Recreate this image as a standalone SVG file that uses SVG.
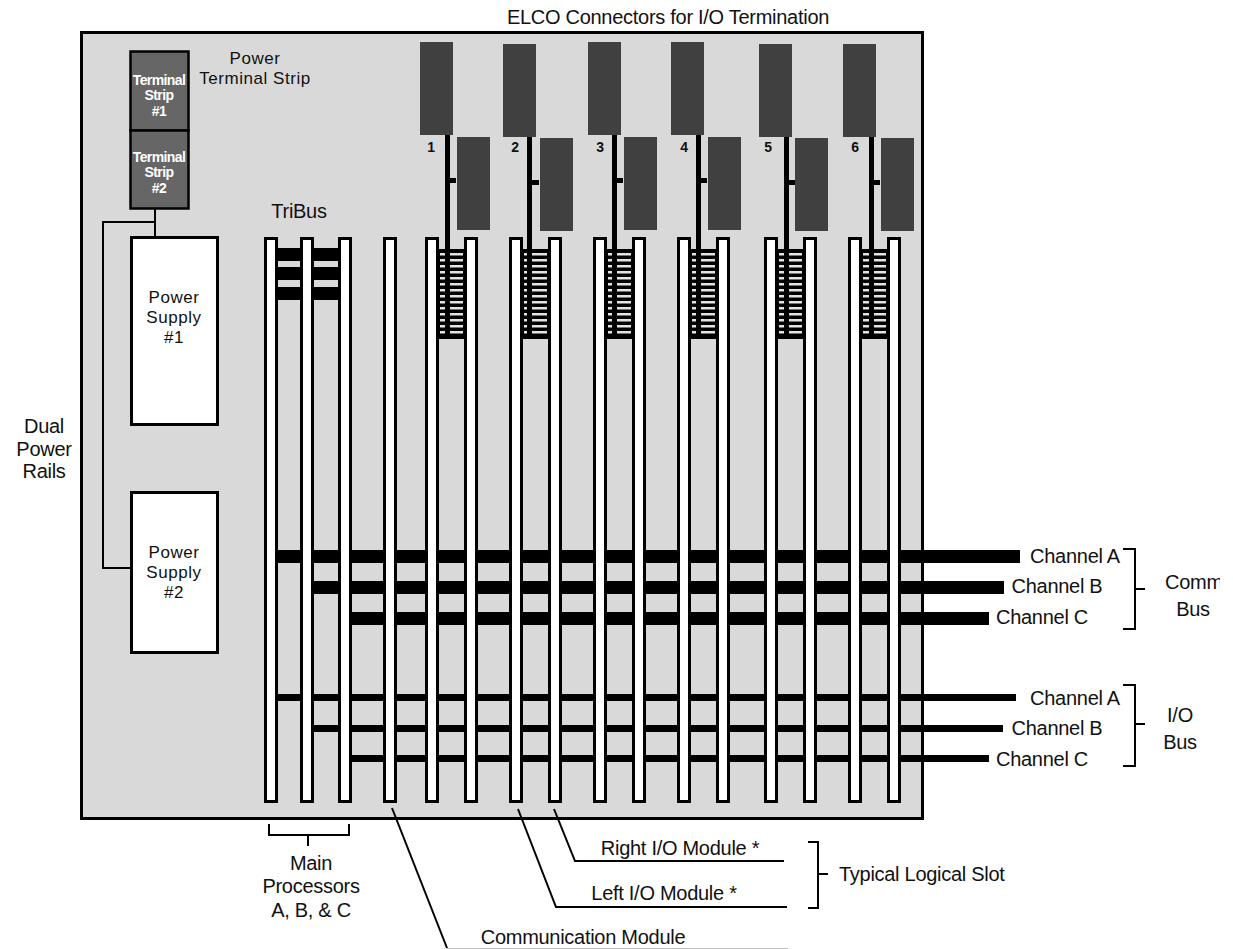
<svg xmlns="http://www.w3.org/2000/svg" width="1233" height="949" viewBox="0 0 1233 949">
<style>
text{font-family:"Liberation Sans",Arial,sans-serif;font-size:20px;fill:#111;letter-spacing:-.28px;text-anchor:middle}
.st{font-size:14px;font-weight:bold;fill:#fff;letter-spacing:-.6px}
.n{font-size:14px;font-weight:bold}
.l{text-anchor:start}
text.t{font-size:17px;letter-spacing:.55px}
.slot{fill:#fff;stroke:#000;stroke-width:3}
.elco{fill:#404040}
.ps{fill:#fff;stroke:#000;stroke-width:3}
.ts{fill:#666;stroke:#000;stroke-width:2.500}
.thin{fill:none;stroke:#000;stroke-width:2}
</style>
<defs>
<clipPath id="cl"><rect x="0" y="0" width="1220" height="949"/></clipPath>
<g id="rungs"><rect x="-1" y="0" width="27" height="90"/><path d="M1 5.250h23M1 11.250h23M1 17.250h23M1 23.250h23M1 29.250h23M1 35.250h23M1 41.250h23M1 47.250h23M1 53.250h23M1 59.250h23M1 65.250h23M1 71.250h23M1 77.250h23M1 83.250h23" stroke="#e4e4e4" stroke-width="2.500"/></g>
</defs>
<rect x="81.500" y="32.500" width="841" height="786" fill="#d9d9d9" stroke="#000" stroke-width="3"/>
<g id="connectors">
<path class="thin" d="M155 208V237M155 222H103V568H131"/>
<g id="tribus"><path d="M278 248h22v13h-22zM314 248h24v13h-24zM278 267h22v13h-22zM314 267h24v13h-24zM278 287h22v13h-22zM314 287h24v13h-24z"/></g>
<g id="comm-bus"><rect x="278" y="550" width="742" height="13"/><rect x="314" y="581" width="690" height="13"/><rect x="352" y="612" width="637" height="13"/></g>
<g id="io-bus"><rect x="278" y="694" width="738" height="7"/><rect x="314" y="725" width="689" height="7"/><rect x="352" y="755" width="637" height="7"/></g>
<g id="ladders"><use href="#rungs" x="439" y="249"/><use href="#rungs" x="523" y="249"/><use href="#rungs" x="607" y="249"/><use href="#rungs" x="691" y="249"/><use href="#rungs" x="778" y="249"/><use href="#rungs" x="862" y="249"/></g>
<g id="elco-lines"><path d="M445 135h5v201h-5zM450 178h6v5h-6zM527 137h5v199h-5zM532 180h7v5h-7zM612 135h5v201h-5zM617 178h6v5h-6zM696 135h5v201h-5zM701 178h6v5h-6zM784 137h5v199h-5zM789 180h6v5h-6zM869 137h5v199h-5zM874 180h6v5h-6z"/></g>
<path class="thin" d="M392 808L447 948"/><path d="M447 948.500H788" stroke="#bbb" fill="none"/>
<path class="thin" d="M518 809L556 907H787M554 809L575 861H784"/>
<path class="thin" d="M269 824V835H349V824M308 835V846"/>
<path class="thin" d="M808 842H818V908H808M818 874H828"/>
<path class="thin" d="M1123 549H1135V629H1123M1135 589H1145M1123 685H1135V766H1123M1135 724H1145"/>
</g>
<g id="slots">
<rect class="slot" x="265.500" y="238.500" width="11" height="563"/>
<rect class="slot" x="301.500" y="238.500" width="11" height="563"/>
<rect class="slot" x="339.500" y="238.500" width="11" height="563"/>
<rect class="slot" x="384.500" y="238.500" width="11" height="563"/>
<rect class="slot" x="426.500" y="238.500" width="11" height="563"/>
<rect class="slot" x="465.500" y="238.500" width="11" height="563"/>
<rect class="slot" x="510.500" y="238.500" width="11" height="563"/>
<rect class="slot" x="549.500" y="238.500" width="11" height="563"/>
<rect class="slot" x="594.500" y="238.500" width="11" height="563"/>
<rect class="slot" x="633.500" y="238.500" width="11" height="563"/>
<rect class="slot" x="678.500" y="238.500" width="11" height="563"/>
<rect class="slot" x="717.500" y="238.500" width="11" height="563"/>
<rect class="slot" x="765.500" y="238.500" width="11" height="563"/>
<rect class="slot" x="804.500" y="238.500" width="11" height="563"/>
<rect class="slot" x="849.500" y="238.500" width="11" height="563"/>
<rect class="slot" x="888.500" y="238.500" width="11" height="563"/>
</g>
<g id="terminal-strip-1"><rect class="ts" x="130.500" y="51.500" width="58" height="79"/><text class="st" x="159" y="85">Terminal</text><text class="st" x="159" y="100">Strip</text><text class="st" x="159" y="116">#1</text></g>
<g id="terminal-strip-2"><rect class="ts" x="130.500" y="130.500" width="58" height="78"/><text class="st" x="159" y="162">Terminal</text><text class="st" x="159" y="177">Strip</text><text class="st" x="159" y="193">#2</text></g>
<g id="power-supply-1"><rect class="ps" x="131.500" y="237.500" width="86" height="187"/><text class="t" x="174" y="303">Power</text><text class="t" x="174" y="323">Supply</text><text class="t" x="174" y="343">#1</text></g>
<g id="power-supply-2"><rect class="ps" x="131.500" y="492.500" width="86" height="160"/><text class="t" x="174" y="558">Power</text><text class="t" x="174" y="578">Supply</text><text class="t" x="174" y="598">#2</text></g>
<g id="elco">
<rect class="elco" x="420" y="42" width="33" height="93"/><rect class="elco" x="457" y="137" width="33" height="93"/>
<rect class="elco" x="503" y="44" width="33" height="93"/><rect class="elco" x="540" y="138" width="33" height="93"/>
<rect class="elco" x="588" y="42" width="33" height="93"/><rect class="elco" x="624" y="137" width="33" height="93"/>
<rect class="elco" x="671" y="42" width="33" height="93"/><rect class="elco" x="708" y="137" width="33" height="93"/>
<rect class="elco" x="759" y="44" width="33" height="93"/><rect class="elco" x="795" y="138" width="33" height="93"/>
<rect class="elco" x="843" y="44" width="33" height="93"/><rect class="elco" x="881" y="138" width="33" height="93"/>
<text class="n" x="431" y="152">1</text><text class="n" x="515" y="152">2</text><text class="n" x="600" y="152">3</text><text class="n" x="684" y="152">4</text><text class="n" x="768" y="152">5</text><text class="n" x="855" y="152">6</text>
</g>
<g id="labels">
<text x="668" y="24">ELCO Connectors for I/O Termination</text>
<text class="t" x="255" y="64">Power</text><text class="t" x="255" y="84">Terminal Strip</text>
<text x="299" y="218">TriBus</text>
<text x="44" y="433">Dual</text><text x="44" y="456">Power</text><text x="44" y="478">Rails</text>
<text x="1075" y="563">Channel A</text><text x="1057" y="593">Channel B</text><text x="1042" y="624">Channel C</text>
<text x="1075" y="705">Channel A</text><text x="1057" y="735">Channel B</text><text x="1042" y="766">Channel C</text>
<text class="l" x="1165" y="589" clip-path="url(#cl)">Comm</text><text x="1193" y="616">Bus</text>
<text x="1180" y="722">I/O</text><text x="1180" y="749">Bus</text>
<text x="311" y="870">Main</text><text x="311" y="893">Processors</text><text x="311" y="917">A, B, &amp; C</text>
<text x="680" y="855">Right I/O Module *</text><text x="664" y="900">Left I/O Module *</text>
<text x="583" y="944">Communication Module</text>
<text class="l" x="839" y="881">Typical Logical Slot</text>
</g>
</svg>
